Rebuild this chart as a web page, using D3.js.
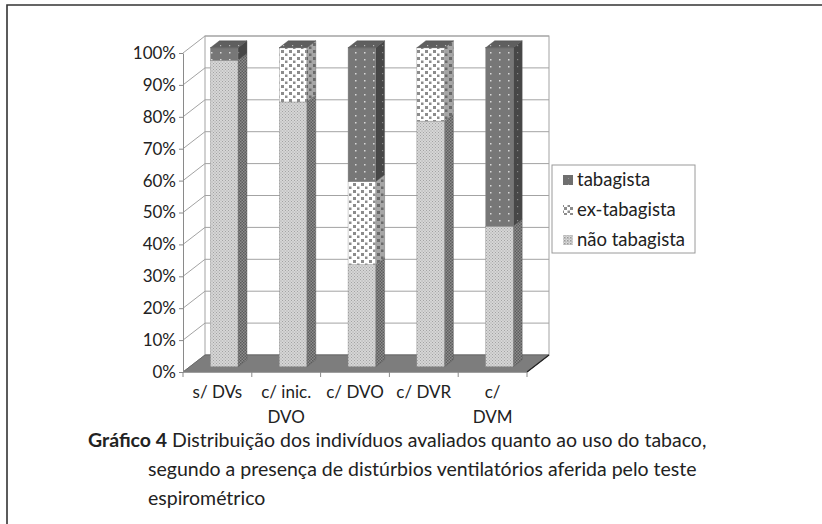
<!DOCTYPE html>
<html>
<head>
<meta charset="utf-8">
<script src="https://cdn.jsdelivr.net/npm/d3@7/dist/d3.min.js"></script>
<style>
  body { margin: 0; background: #fff; }
  svg text { font-family: Lato, "Open Sans", sans-serif; fill: #222; }
</style>
</head>
<body>
<svg id="chart" width="822" height="524"></svg>
<script>
// data (percent of individuals)
const categories = [["s/ DVs"], ["c/ inic.", "DVO"], ["c/ DVO"], ["c/ DVR"], ["c/", "DVM"]];
const series = ["não tabagista", "ex-tabagista", "tabagista"];
const naoTabagista = [96, 83, 32, 77, 44];
const exTabagista = [0, 17, 26, 23, 0];
const tabagista = [4, 0, 42, 0, 56];
const yTicks = [0, 10, 20, 30, 40, 50, 60, 70, 80, 90, 100];

const svg = d3.select("#chart");

// front plane + depth vector of the 3d box
const front = { left: 183, right: 527, top: 53, bottom: 372 };
const depth = [22, -17];
const barDepth = [0.31, 0.72]; // where the bars sit inside the box depth

const x = d3.scaleBand()
    .domain(d3.range(categories.length))
    .range([front.left, front.right])
    .paddingInner(0.6).paddingOuter(0.3);
const xCat = d3.scaleBand()
    .domain(d3.range(categories.length))
    .range([front.left, front.right]);
const y = d3.scaleLinear().domain([0, 100]).range([front.bottom, front.top]);

// patterns
const defs = svg.append("defs");
function pattern(id, w, h, bg, fg, dots) {
  const p = defs.append("pattern").attr("id", id)
      .attr("patternUnits", "userSpaceOnUse").attr("width", w).attr("height", h);
  p.append("rect").attr("width", w).attr("height", h).attr("fill", bg);
  dots.forEach(d => p.append("rect").attr("x", d[0]).attr("y", d[1])
      .attr("width", d[2]).attr("height", d[2]).attr("fill", fg));
}
pattern("naoF", 3, 3, "#d6d6d6", "#a3a3a3", [[0, 0, 1], [1.5, 1.5, 1]]);
pattern("naoS", 3, 3, "#8e8e8e", "#5c5c5c", [[0, 0, 1.5], [1.5, 1.5, 1.5]]);
pattern("naoL", 3, 3, "#dadada", "#999", [[0, 0, 1.5], [1.5, 1.5, 1]]);
pattern("exF", 8, 7, "#ffffff", "#8c8c8c", [[1, 1, 3], [5, 4.5, 2.5]]);
pattern("exS", 8, 7, "#a6a6a6", "#6a6a6a", [[1, 1, 3], [5, 4.5, 2.5]]);
pattern("exL", 6, 6, "#ffffff", "#8c8c8c", [[0, 0, 3], [3.5, 3.5, 2.5]]);
pattern("tabF", 9, 7, "#777777", "#d8d8d8", [[4, 3, 1.5]]);
pattern("tabS", 9, 7, "#474747", "#888888", [[4, 3, 1.2]]);
pattern("tabT", 9, 7, "#5f5f5f", "#bbbbbb", [[4, 3, 1.2]]);
pattern("tabL", 6, 6, "#6f6f6f", "#999", [[4, 1, 1]]);

const fills = {
  "não tabagista": { f: "url(#naoF)", s: "url(#naoS)", t: "#bdbdbd", l: "url(#naoL)" },
  "ex-tabagista": { f: "url(#exF)", s: "url(#exS)", t: "#cfcfcf", l: "url(#exL)" },
  "tabagista": { f: "url(#tabF)", s: "url(#tabS)", t: "url(#tabT)", l: "url(#tabL)" }
};

// frame around the figure
svg.append("path").attr("d", "M7,524 V5 H822")
    .attr("fill", "none").attr("stroke", "#333").attr("stroke-width", 1.6);

const gridColor = "#a3a3a3";
const pt = (px, py, t) => [px + depth[0] * t, py + depth[1] * t];

// back wall and left wall
const wall = svg.append("g");
wall.append("rect")
    .attr("x", front.left + depth[0]).attr("y", front.top + depth[1])
    .attr("width", front.right - front.left).attr("height", front.bottom - front.top)
    .attr("fill", "#fff").attr("stroke", gridColor);
yTicks.forEach(t => {
  const yy = y(t);
  wall.append("line")
      .attr("x1", front.left + depth[0]).attr("x2", front.right + depth[0])
      .attr("y1", yy + depth[1]).attr("y2", yy + depth[1])
      .attr("stroke", gridColor);
  wall.append("line")
      .attr("x1", front.left).attr("y1", yy)
      .attr("x2", front.left + depth[0]).attr("y2", yy + depth[1])
      .attr("stroke", gridColor);
});

// floor
const fl = [[front.left, front.bottom], [front.right, front.bottom],
  pt(front.right, front.bottom, 1), pt(front.left, front.bottom, 1)];
svg.append("path").attr("d", "M" + fl.join("L") + "Z")
    .attr("fill", "#7d7d7d").attr("stroke", "#6a6a6a");
svg.append("line")
    .attr("x1", front.right).attr("y1", front.bottom)
    .attr("x2", front.right + depth[0]).attr("y2", front.bottom + depth[1])
    .attr("stroke", "#222").attr("stroke-width", 1.2);

// y axis on the front plane
svg.append("g")
    .attr("transform", `translate(${front.left},0)`)
    .call(d3.axisLeft(y).tickValues(yTicks).tickFormat(d => d + "%").tickSize(4).tickSizeOuter(0))
    .call(g => g.selectAll("path, line").attr("stroke", "#8a8a8a"))
    .call(g => g.selectAll("text").attr("font-size", 17).attr("fill", "#222")
        .attr("font-family", "Lato, sans-serif").attr("x", -7));

// x axis
const xg = svg.append("g");
xg.append("line").attr("x1", front.left).attr("x2", front.right)
    .attr("y1", front.bottom).attr("y2", front.bottom).attr("stroke", "#8a8a8a");
d3.range(categories.length + 1).forEach(i => {
  const xx = front.left + i * xCat.step();
  xg.append("line").attr("x1", xx).attr("x2", xx)
      .attr("y1", front.bottom).attr("y2", front.bottom + 5).attr("stroke", "#8a8a8a");
});
categories.forEach((lines, i) => {
  const cx = xCat(i) + xCat.bandwidth() / 2;
  lines.forEach((s, j) => {
    xg.append("text").attr("x", cx).attr("y", 398 + j * 25)
        .attr("text-anchor", "middle").attr("font-size", 17).text(s);
  });
});

// stacked 3d bars
const stackData = categories.map((c, i) => ({
  i, "não tabagista": naoTabagista[i], "ex-tabagista": exTabagista[i], "tabagista": tabagista[i]
}));
const stacked = d3.stack().keys(series)(stackData);
const bars = svg.append("g");
const [d0, d1] = barDepth;
categories.forEach((c, i) => {
  const bx0 = x(i), bx1 = x(i) + x.bandwidth();
  stacked.forEach(s => {
    const [v0, v1] = s[i];
    if (v1 - v0 <= 0) return;
    const f = fills[s.key];
    const ya = y(v0), yb = y(v1);
    // side face
    const side = [pt(bx1, ya, d0), pt(bx1, ya, d1), pt(bx1, yb, d1), pt(bx1, yb, d0)];
    bars.append("path").attr("d", "M" + side.join("L") + "Z")
        .attr("fill", f.s).attr("stroke", "#555").attr("stroke-width", 0.4);
    // front face
    const p0 = pt(bx0, yb, d0);
    bars.append("rect").attr("x", p0[0]).attr("y", p0[1])
        .attr("width", bx1 - bx0).attr("height", ya - yb)
        .attr("fill", f.f).attr("stroke", "#8a8a8a").attr("stroke-width", 0.4);
  });
  // the top series (even at zero height) caps every column
  const last = stacked[stacked.length - 1];
  const yt = y(last[i][1]);
  const top = [pt(bx0, yt, d0), pt(bx1, yt, d0), pt(bx1, yt, d1), pt(bx0, yt, d1)];
  bars.append("path").attr("d", "M" + top.join("L") + "Z")
      .attr("fill", fills[last.key].t).attr("stroke", "#444").attr("stroke-width", 0.4);
});

// legend
const lg = svg.append("g").attr("transform", "translate(552,165)");
lg.append("rect").attr("width", 143).attr("height", 88)
    .attr("fill", "#fff").attr("stroke", "#9a9a9a");
series.slice().reverse().forEach((s, k) => {
  const ry = 15 + k * 30;
  lg.append("rect").attr("x", 11).attr("y", ry - 5).attr("width", 10).attr("height", 10)
      .attr("fill", fills[s].l);
  lg.append("text").attr("x", 25).attr("y", ry + 6).attr("font-size", 18.5).text(s);
});

// caption
const cap = svg.append("g").attr("font-size", 19.5);
const l1 = cap.append("text").attr("x", 88).attr("y", 447);
l1.append("tspan").attr("font-weight", "bold").text("Gráfico 4");
l1.append("tspan").text(" Distribuição dos indivíduos avaliados quanto ao uso do tabaco,");
cap.append("text").attr("x", 148).attr("y", 476)
    .text("segundo a presença de distúrbios ventilatórios aferida pelo teste");
cap.append("text").attr("x", 148).attr("y", 505).text("espirométrico");
</script>
</body>
</html>
